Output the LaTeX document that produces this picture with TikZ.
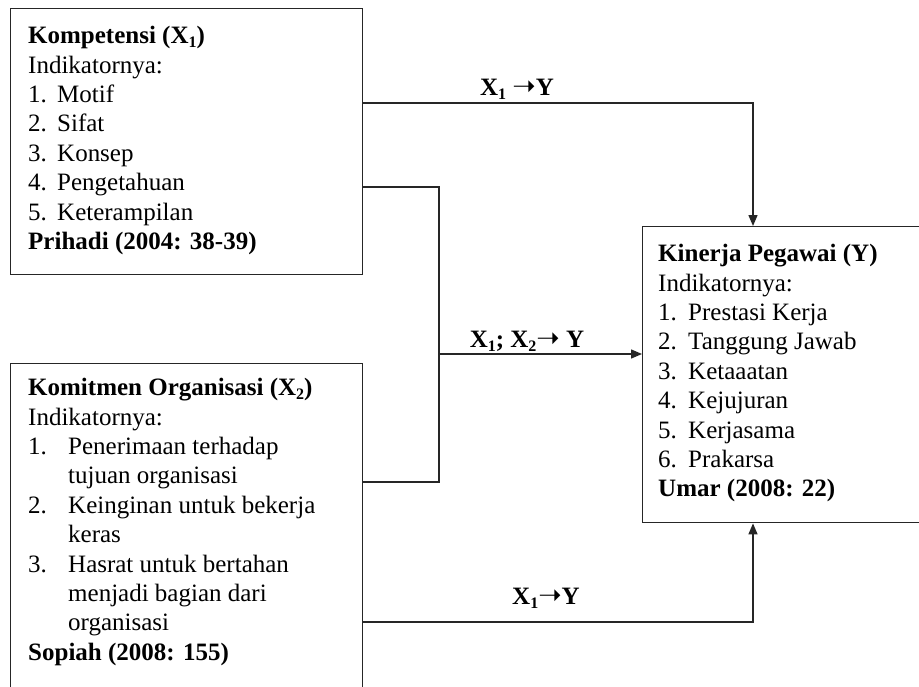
\documentclass[tikz,border=0pt]{standalone}
\usepackage{fontspec}
\setmainfont{Liberation Serif}
\newfontfamily\dejavu{DejaVu Sans}
\usetikzlibrary{arrows.meta}
\newcommand\lowsub[1]{\raisebox{-4pt}{\fontsize{16}{16}\selectfont #1}}
\newcommand\arr{{\dejavu\fontsize{28}{28}\selectfont ➝}}
\begin{document}
\begin{tikzpicture}[x=1pt,y=-1pt,
  box/.style={draw=black!85, line width=1.4pt, inner sep=0pt, anchor=north west},
  boxtext/.style={anchor=north west, inner sep=0pt, align=left, font=\fontsize{25}{29.4}\selectfont},
  lbl/.style={anchor=base, inner sep=0pt, font=\fontsize{25}{29.4}\selectfont\bfseries},
  conn/.style={draw=black!85, line width=1.4pt},
  arrowtip/.style={-{Triangle[length=11pt,width=9pt]}}
]
\clip (0,0) rectangle (919,686);
\fill[white] (0,0) rectangle (919,686);

% boxes
\node[box, minimum width=352pt, minimum height=266pt] (k) at (10,8) {};
\node[box, minimum width=352pt, minimum height=340pt] (ko) at (10,363) {};
\node[box, minimum width=290pt, minimum height=296pt] (y) at (642,226) {};

% texts
\node[boxtext] (kt) at (28,22.9) {\strut\textbf{Kompetensi (X\lowsub{1})}\\
Indikatornya:\\
\makebox[29pt][l]{1.}Motif\\
\makebox[29pt][l]{2.}Sifat\\
\makebox[29pt][l]{3.}Konsep\\
\makebox[29pt][l]{4.}Pengetahuan\\
\makebox[29pt][l]{5.}Keterampilan\\
\textbf{Prihadi (2004: 38-39)}};

\node[boxtext] (kot) at (28,374.9) {\strut\textbf{Komitmen Organisasi (X\lowsub{2})}\\
Indikatornya:\\
\makebox[40pt][l]{1.}Penerimaan terhadap\\
\hspace*{40pt}tujuan organisasi\\
\makebox[40pt][l]{2.}Keinginan untuk bekerja\\
\hspace*{40pt}keras\\
\makebox[40pt][l]{3.}Hasrat untuk bertahan\\
\hspace*{40pt}menjadi bagian dari\\
\hspace*{40pt}organisasi\\
\textbf{Sopiah (2008: 155)}};

\node[boxtext] (yt) at (658,240.9) {\strut\textbf{Kinerja Pegawai (Y)}\\
Indikatornya:\\
\makebox[30pt][l]{1.}Prestasi Kerja\\
\makebox[30pt][l]{2.}Tanggung Jawab\\
\makebox[30pt][l]{3.}Ketaaatan\\
\makebox[30pt][l]{4.}Kejujuran\\
\makebox[30pt][l]{5.}Kerjasama\\
\makebox[30pt][l]{6.}Prakarsa\\
\textbf{Umar (2008: 22)}};

% connector coordinates
\coordinate (c1) at (753,103);
\coordinate (m1) at (439,187);
\coordinate (m2) at (439,482);
\coordinate (m3) at (439,354);
\coordinate (b1) at (753,622);

% connectors
\draw[conn, arrowtip] (k.east |- c1) -- (c1) -- (y.north -| c1);
\draw[conn] (k.east |- m1) -- (m1) -- (m2) -- (ko.east |- m2);
\draw[conn, arrowtip] (m3) -- (y.west |- m3);
\draw[conn, arrowtip] (ko.east |- b1) -- (b1) -- (y.south -| b1);

% labels
\node[lbl] (l1) at (517,95) {X\lowsub{1} \arr Y};
\node[lbl] (l2) at (527,347) {X\lowsub{1}; X\lowsub{2}\arr\ Y};
\node[lbl] (l3) at (546,604) {X\lowsub{1}\arr Y};
\end{tikzpicture}
\end{document}
